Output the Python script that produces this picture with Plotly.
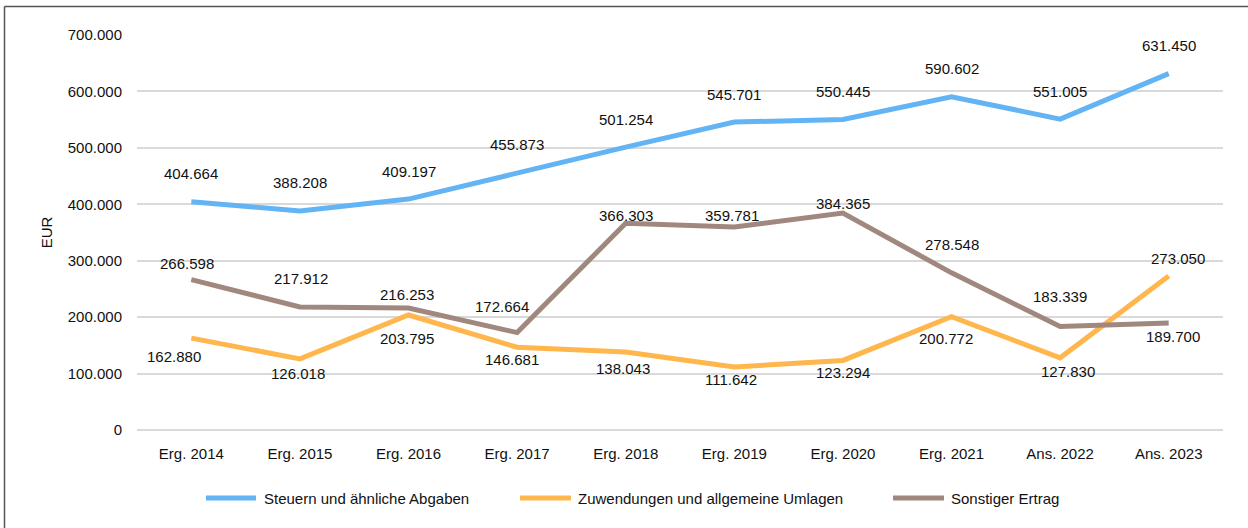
import plotly.graph_objects as go

categories = ["Erg. 2014", "Erg. 2015", "Erg. 2016", "Erg. 2017", "Erg. 2018",
              "Erg. 2019", "Erg. 2020", "Erg. 2021", "Ans. 2022", "Ans. 2023"]
steuern = [404664, 388208, 409197, 455873, 501254, 545701, 550445, 590602, 551005, 631450]
zuwendungen = [162880, 126018, 203795, 146681, 138043, 111642, 123294, 200772, 127830, 273050]
sonstiger = [266598, 217912, 216253, 172664, 366303, 359781, 384365, 278548, 183339, 189700]
series_names = ["Steuern und ähnliche Abgaben", "Zuwendungen und allgemeine Umlagen", "Sonstiger Ertrag"]
y_ticks = [0, 100000, 200000, 300000, 400000, 500000, 600000, 700000]

# label offsets in pixels (x, y-down)
off_blue = [(0, -28)] * 10
off_orange = [(-17, 18), (-2, 15), (-2, 23), (-5, 12), (-3, 16), (-3, 12), (0, 12), (-6, 22), (8, 14), (9, -17)]
off_brown = [(-4, -16), (1, -29), (-2, -13), (-15, -26), (0, -8), (-2, -11), (0, -10), (0, -28), (0, -30), (4, 14)]

colors = ["#63B4F4", "#FFB74D", "#A1887F"]
FONT = "Liberation Sans, Arial, sans-serif"
TXT = "#111111"

W, H = 1248, 528
L, R, T, B = 137, 25, 35, 98
pw, ph = W - L - R, H - T - B

# custom legend layout in pixels: (line x0, line x1, text x0)
legend_px = [(204, 258, 262), (518, 573, 576), (891, 946, 949)]
legend_y = 498


def px_to_paper_x(px):
    return (px - L) / pw


def px_to_paper_y(py):
    return (H - B - py) / ph


fig = go.Figure()
annotations = []
shapes = [
    dict(type="line", xref="paper", yref="paper",
         x0=px_to_paper_x(4.5), x1=px_to_paper_x(1260),
         y0=px_to_paper_y(6.5), y1=px_to_paper_y(6.5),
         line=dict(color="#555555", width=1.5), layer="below"),
    dict(type="line", xref="paper", yref="paper",
         x0=px_to_paper_x(4.5), x1=px_to_paper_x(4.5),
         y0=px_to_paper_y(6.5), y1=px_to_paper_y(540),
         line=dict(color="#555555", width=1.5), layer="below"),
]

for name, vals, col, offs, (lx0, lx1, tx) in zip(series_names, [steuern, zuwendungen, sonstiger], colors,
                                                 [off_blue, off_orange, off_brown], legend_px):
    fig.add_trace(go.Scatter(x=categories, y=vals, mode="lines", name=name,
                             line=dict(color=col, width=5), hoverinfo="skip", showlegend=False))
    for c, v, (dx, dy) in zip(categories, vals, offs):
        annotations.append(dict(x=c, y=v, xref="x", yref="y", text=f"{v:,}".replace(",", "."),
                                showarrow=False, xshift=dx, yshift=-dy,
                                font=dict(family=FONT, size=15, color=TXT)))
    shapes.append(dict(type="line", xref="paper", yref="paper",
                       x0=px_to_paper_x(lx0 + 2), x1=px_to_paper_x(lx1 - 2),
                       y0=px_to_paper_y(legend_y), y1=px_to_paper_y(legend_y),
                       line=dict(color=col, width=5)))
    annotations.append(dict(x=px_to_paper_x(tx), y=px_to_paper_y(legend_y), xref="paper", yref="paper",
                            xanchor="left", yanchor="middle", text=name, showarrow=False,
                            font=dict(family=FONT, size=15, color=TXT)))

fig.update_layout(
    width=W, height=H,
    margin=dict(l=L, r=R, t=T, b=B),
    paper_bgcolor="white", plot_bgcolor="white",
    separators=",.",
    font=dict(family=FONT, size=15, color=TXT),
    annotations=annotations,
    shapes=shapes,
    showlegend=False,
    xaxis=dict(showgrid=False, showline=False, zeroline=False,
               ticks="outside", ticklen=10, tickcolor="rgba(0,0,0,0)",
               tickfont=dict(family=FONT, size=15, color=TXT),
               range=[-0.5, 9.5]),
    yaxis=dict(range=[0, 700000], tickvals=y_ticks, tickformat=",d",
               showgrid=True, gridcolor="#D9D9D9", gridwidth=1.5,
               zeroline=True, zerolinecolor="#D9D9D9", zerolinewidth=1.5,
               showline=False, ticks="outside", ticklen=11, tickcolor="rgba(0,0,0,0)",
               tickfont=dict(family=FONT, size=15, color=TXT),
               title=dict(text="EUR", standoff=11, font=dict(family=FONT, size=15, color=TXT))),
)

fig.write_html("out.html", config={"displayModeBar": False},
               post_script="document.body.style.margin='0';")
